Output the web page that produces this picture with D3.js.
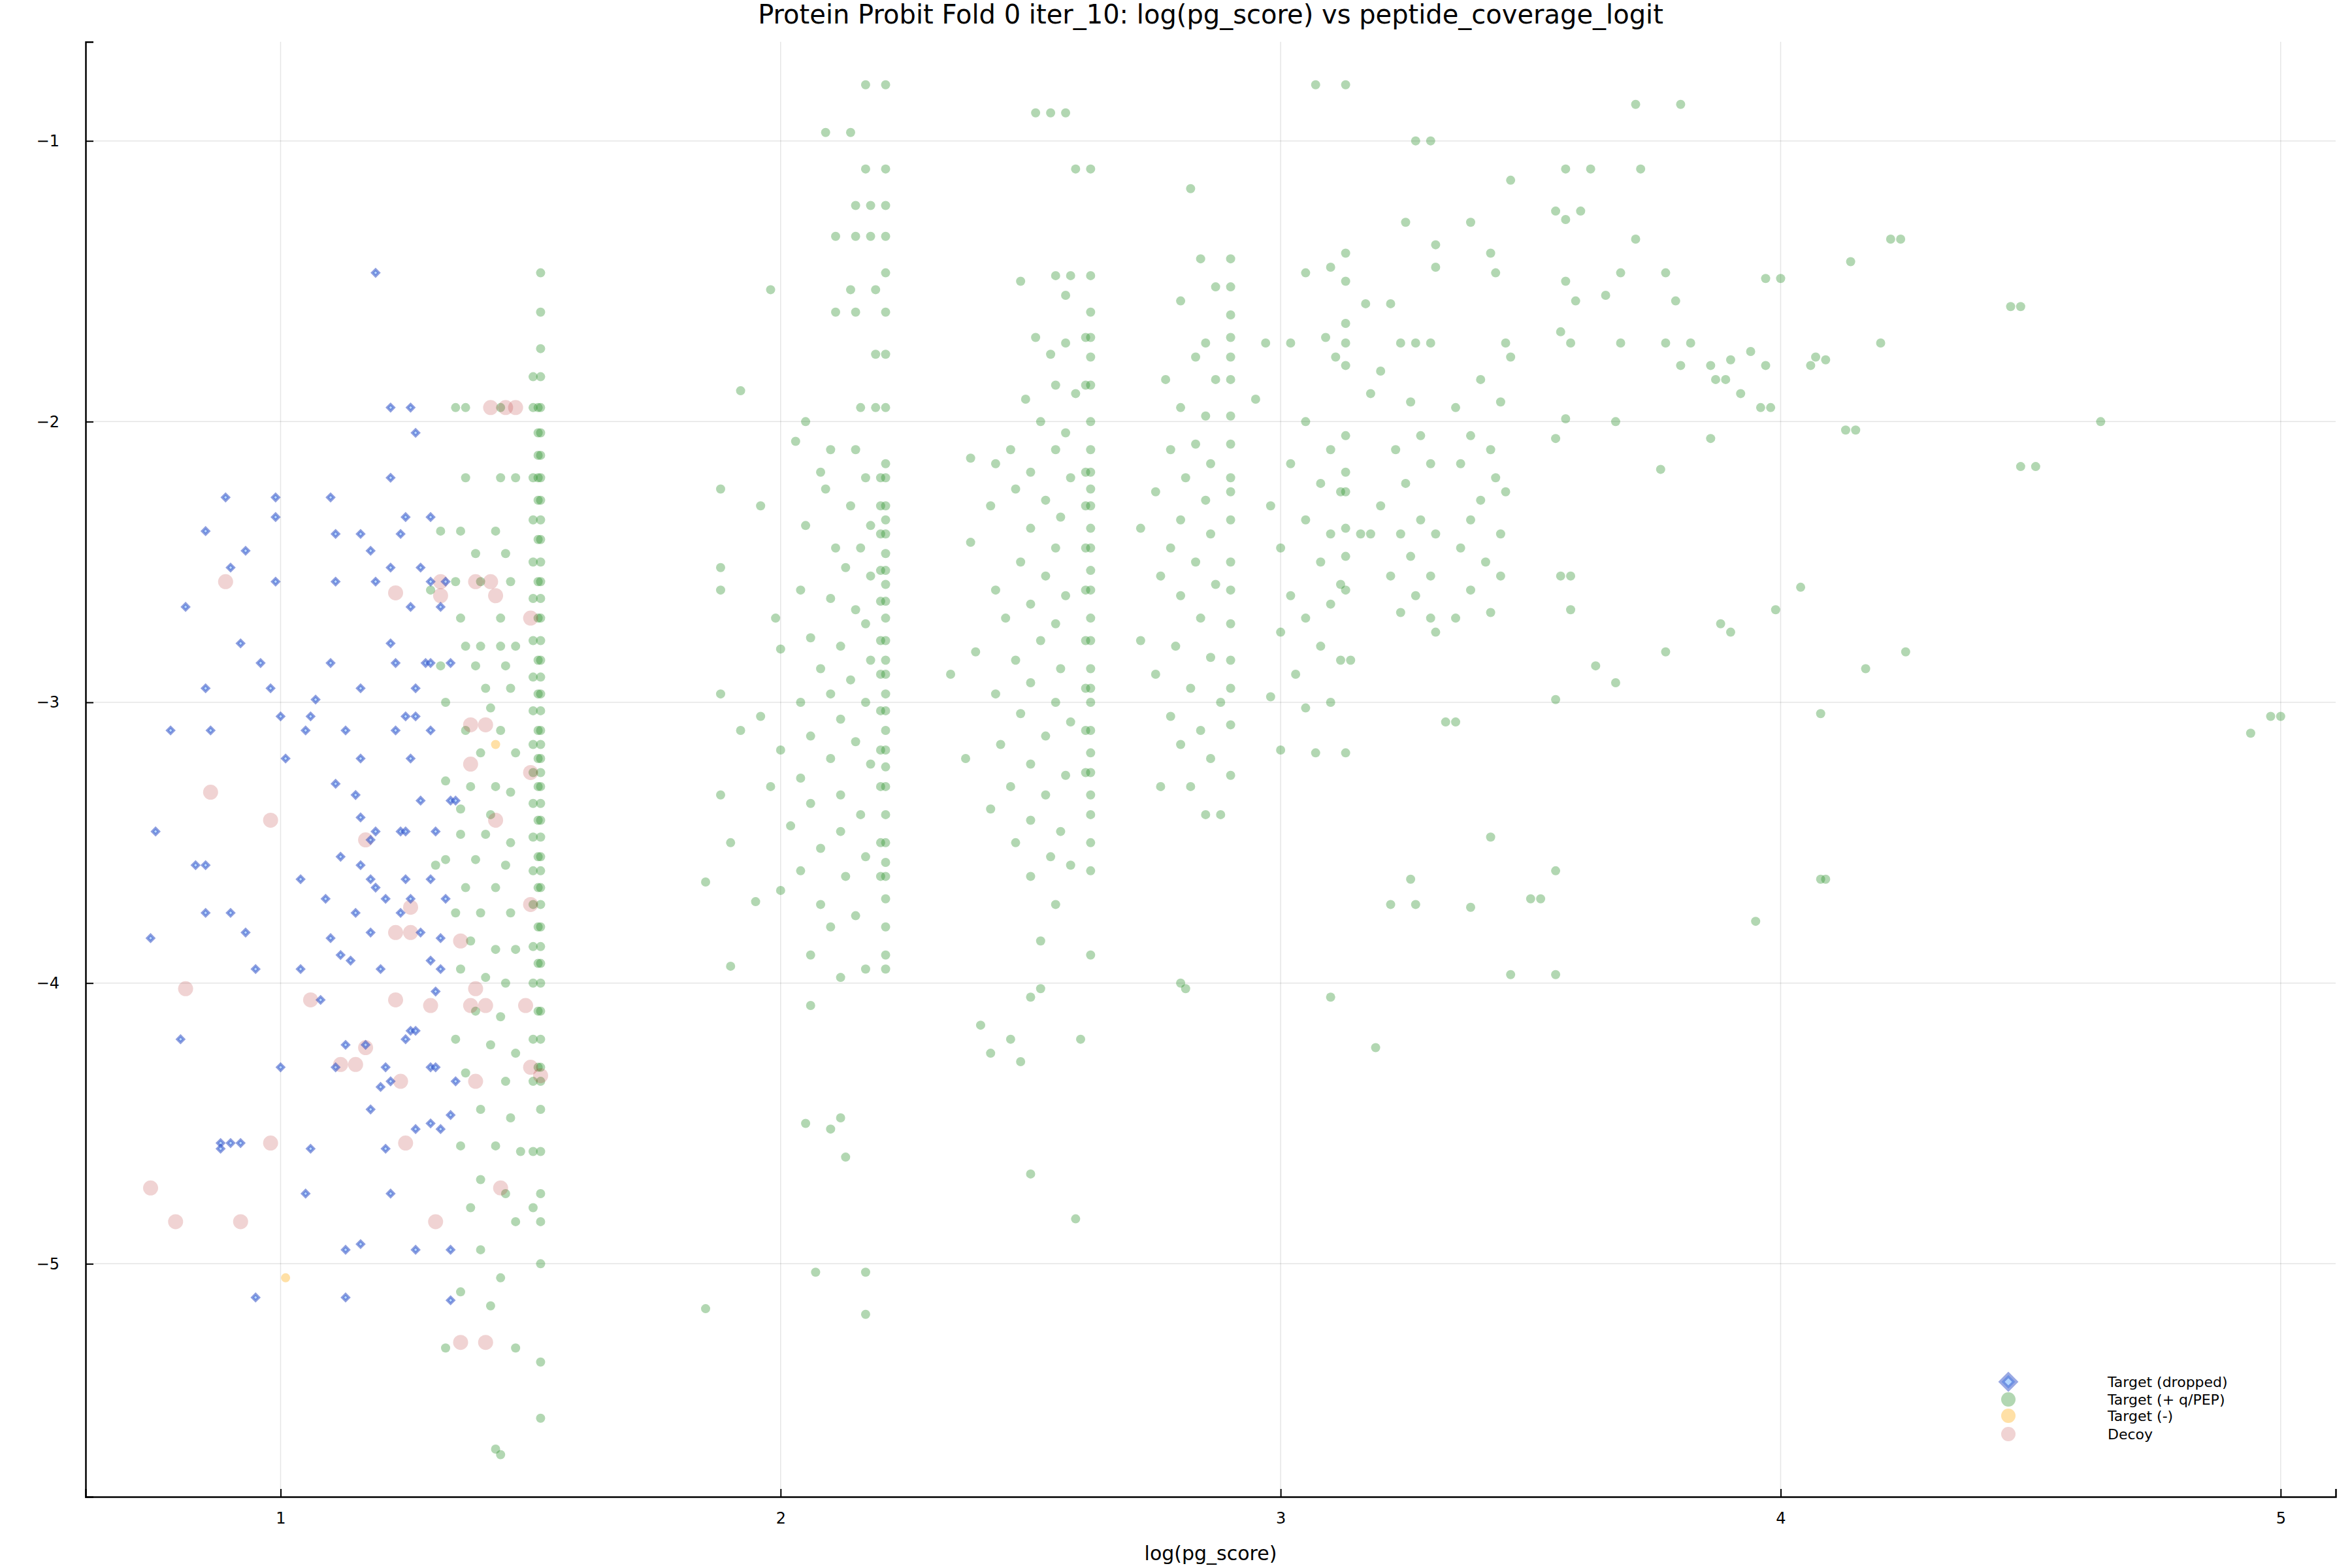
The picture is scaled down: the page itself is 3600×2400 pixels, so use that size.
<!DOCTYPE html>
<html><head><meta charset="utf-8">
<script src="https://cdn.jsdelivr.net/npm/d3@7"></script>
<style>body{margin:0;background:#fff}text{font-family:"DejaVu Sans",sans-serif}</style>
</head><body><svg id="c" width="3600" height="2400"></svg>
<script>
const titleText = "Protein Probit Fold 0 iter_10: log(pg_score) vs peptide_coverage_logit";
const xLabel = "log(pg_score)";
const xTicks = [1,2,3,4,5];
const yTicks = [-1,-2,-3,-4,-5];
const legendLabels = ["Target (dropped)","Target (+ q/PEP)","Target (-)","Decoy"];

const dropped = [[1.19,-1.47],[1.22,-1.95],[1.26,-1.95],[1.27,-2.04],[1.22,-2.2],[0.89,-2.27],[0.99,-2.27],[1.1,-2.27],[0.99,-2.34],[1.25,-2.34],[1.3,-2.34],[0.85,-2.39],[1.11,-2.4],[1.16,-2.4],[1.24,-2.4],[0.93,-2.46],[1.18,-2.46],[0.9,-2.52],[1.22,-2.52],[1.28,-2.52],[0.99,-2.57],[1.11,-2.57],[1.19,-2.57],[1.3,-2.57],[1.33,-2.57],[0.81,-2.66],[1.26,-2.66],[1.32,-2.66],[0.92,-2.79],[1.22,-2.79],[0.96,-2.86],[1.1,-2.86],[1.23,-2.86],[1.29,-2.86],[1.3,-2.86],[1.34,-2.86],[0.85,-2.95],[0.98,-2.95],[1.16,-2.95],[1.27,-2.95],[1.07,-2.99],[1.0,-3.05],[1.06,-3.05],[1.25,-3.05],[1.27,-3.05],[0.78,-3.1],[0.86,-3.1],[1.05,-3.1],[1.13,-3.1],[1.23,-3.1],[1.3,-3.1],[1.01,-3.2],[1.16,-3.2],[1.26,-3.2],[1.11,-3.29],[1.15,-3.33],[1.28,-3.35],[1.34,-3.35],[1.35,-3.35],[1.16,-3.41],[0.75,-3.46],[1.19,-3.46],[1.24,-3.46],[1.25,-3.46],[1.31,-3.46],[1.18,-3.49],[1.12,-3.55],[0.83,-3.58],[0.85,-3.58],[1.16,-3.58],[1.04,-3.63],[1.18,-3.63],[1.25,-3.63],[1.3,-3.63],[1.19,-3.66],[1.21,-3.7],[1.09,-3.7],[1.26,-3.7],[1.33,-3.7],[0.85,-3.75],[0.9,-3.75],[1.15,-3.75],[1.24,-3.75],[0.93,-3.82],[1.18,-3.82],[1.28,-3.82],[0.74,-3.84],[1.1,-3.84],[1.32,-3.84],[1.12,-3.9],[1.14,-3.92],[1.3,-3.92],[0.95,-3.95],[1.04,-3.95],[1.2,-3.95],[1.32,-3.95],[1.08,-4.06],[1.31,-4.03],[1.26,-4.17],[1.27,-4.17],[0.8,-4.2],[1.13,-4.22],[1.17,-4.22],[1.25,-4.2],[1.0,-4.3],[1.11,-4.3],[1.21,-4.3],[1.3,-4.3],[1.31,-4.3],[1.22,-4.35],[1.2,-4.37],[1.35,-4.35],[1.18,-4.45],[1.34,-4.47],[1.3,-4.5],[1.32,-4.52],[1.27,-4.52],[0.88,-4.57],[0.9,-4.57],[0.92,-4.57],[0.88,-4.59],[1.06,-4.59],[1.21,-4.59],[1.05,-4.75],[1.22,-4.75],[1.13,-4.95],[1.16,-4.93],[1.27,-4.95],[1.34,-4.95],[0.95,-5.12],[1.13,-5.12],[1.34,-5.13]];

const decoys = [[0.89,-2.57],[1.23,-2.61],[1.32,-2.57],[1.32,-2.62],[1.39,-2.57],[1.43,-2.62],[1.42,-1.95],[1.45,-1.95],[1.47,-1.95],[1.42,-2.57],[1.5,-2.7],[1.38,-3.08],[1.41,-3.08],[1.38,-3.22],[0.86,-3.32],[0.98,-3.42],[1.43,-3.42],[1.17,-3.49],[1.5,-3.25],[1.23,-3.82],[1.26,-3.82],[1.36,-3.85],[1.5,-3.72],[0.81,-4.02],[1.39,-4.02],[1.06,-4.06],[1.23,-4.06],[1.3,-4.08],[1.38,-4.08],[1.41,-4.08],[1.49,-4.08],[1.17,-4.23],[1.12,-4.29],[1.15,-4.29],[1.24,-4.35],[1.39,-4.35],[1.5,-4.3],[1.52,-4.33],[0.98,-4.57],[1.25,-4.57],[0.74,-4.73],[1.44,-4.73],[0.79,-4.85],[0.92,-4.85],[1.31,-4.85],[1.36,-5.28],[1.41,-5.28],[1.26,-3.73]];

const negTargets = [[1.01,-5.05],[1.43,-3.15]];

// vertical stripes of kept targets: x position and the y values found along it
const stripeX = [1.52,1.505,1.515,2.21,2.2,2.62,2.61,2.9,3.13];
const stripeY = [
 [-1.47,-1.61,-1.74,-1.84,-1.95,-2.04,-2.12,-2.2,-2.28,-2.35,-2.42,-2.5,-2.57,-2.63,-2.7,-2.78,-2.85,-2.91,-2.97,-3.03,-3.1,-3.15,-3.2,-3.25,-3.3,-3.36,-3.42,-3.48,-3.55,-3.6,-3.66,-3.72,-3.8,-3.87,-3.93,-4.0,-4.1,-4.2,-4.3,-4.35,-4.45,-4.6,-4.75,-4.85,-5.0,-5.35,-5.55],
 [-1.84,-1.95,-2.2,-2.35,-2.5,-2.63,-2.78,-2.91,-3.03,-3.15,-3.25,-3.36,-3.48,-3.6,-3.72,-3.87,-4.0,-4.2,-4.35,-4.6,-4.8],
 [-1.95,-2.04,-2.12,-2.2,-2.28,-2.42,-2.57,-2.7,-2.85,-2.97,-3.1,-3.2,-3.3,-3.42,-3.55,-3.66,-3.8,-3.93,-4.1,-4.3],
 [-0.8,-1.1,-1.23,-1.34,-1.47,-1.61,-1.76,-1.95,-2.15,-2.2,-2.3,-2.35,-2.4,-2.47,-2.53,-2.58,-2.64,-2.7,-2.78,-2.85,-2.9,-2.97,-3.03,-3.1,-3.17,-3.23,-3.3,-3.4,-3.5,-3.57,-3.62,-3.7,-3.8,-3.9,-3.95],
 [-2.2,-2.3,-2.4,-2.53,-2.64,-2.78,-2.9,-3.03,-3.17,-3.3,-3.5,-3.62],
 [-1.1,-1.48,-1.61,-1.7,-1.77,-1.87,-2.0,-2.1,-2.18,-2.24,-2.3,-2.38,-2.45,-2.53,-2.6,-2.7,-2.78,-2.88,-2.95,-3.0,-3.1,-3.18,-3.25,-3.33,-3.4,-3.5,-3.6,-3.9],
 [-1.7,-1.87,-2.18,-2.3,-2.45,-2.6,-2.78,-2.95,-3.1,-3.25],
 [-1.42,-1.52,-1.62,-1.7,-1.77,-1.85,-1.98,-2.08,-2.2,-2.25,-2.35,-2.5,-2.6,-2.72,-2.85,-2.95,-3.08,-3.26],
 [-1.4,-1.5,-1.65,-1.72,-1.8,-2.05,-2.18,-2.25,-2.38,-2.48,-2.6]
];

const keptScatter = [[1.35,-1.95],[1.37,-1.95],[1.44,-1.95],[1.37,-2.2],[1.44,-2.2],[1.47,-2.2],[1.32,-2.39],[1.36,-2.39],[1.43,-2.39],[1.39,-2.47],[1.45,-2.47],[1.35,-2.57],[1.4,-2.57],[1.46,-2.57],[1.36,-2.7],[1.44,-2.7],[1.37,-2.8],[1.4,-2.8],[1.44,-2.8],[1.47,-2.8],[1.32,-2.87],[1.39,-2.87],[1.45,-2.87],[1.41,-2.95],[1.46,-2.95],[1.33,-3.0],[1.42,-3.02],[1.37,-3.1],[1.44,-3.1],[1.4,-3.18],[1.47,-3.18],[1.33,-3.28],[1.38,-3.3],[1.43,-3.3],[1.46,-3.32],[1.36,-3.38],[1.42,-3.4],[1.36,-3.47],[1.41,-3.47],[1.46,-3.5],[1.33,-3.56],[1.39,-3.56],[1.45,-3.58],[1.37,-3.66],[1.43,-3.66],[1.35,-3.75],[1.4,-3.75],[1.46,-3.75],[1.38,-3.85],[1.43,-3.88],[1.47,-3.88],[1.36,-3.95],[1.41,-3.98],[1.45,-4.0],[1.39,-4.1],[1.44,-4.12],[1.35,-4.2],[1.42,-4.22],[1.47,-4.25],[1.37,-4.32],[1.45,-4.35],[1.4,-4.45],[1.46,-4.48],[1.36,-4.58],[1.43,-4.58],[1.48,-4.6],[1.4,-4.7],[1.45,-4.75],[1.38,-4.8],[1.47,-4.85],[1.4,-4.95],[1.36,-5.1],[1.44,-5.05],[1.42,-5.15],[1.47,-5.3],[1.33,-5.3],[1.44,-5.68],[1.43,-5.66],[1.3,-2.6],[1.31,-3.58],
[2.17,-0.8],[2.09,-0.97],[2.14,-0.97],[2.17,-1.1],[2.15,-1.23],[2.18,-1.23],[2.11,-1.34],[2.15,-1.34],[2.18,-1.34],[1.98,-1.53],[2.14,-1.53],[2.19,-1.53],[2.11,-1.61],[2.15,-1.61],[2.19,-1.76],[1.92,-1.89],[2.16,-1.95],[2.19,-1.95],[2.05,-2.0],[2.03,-2.07],[2.1,-2.1],[2.15,-2.1],[2.08,-2.18],[2.17,-2.2],[1.88,-2.24],[2.09,-2.24],[1.96,-2.3],[2.14,-2.3],[2.05,-2.37],[2.18,-2.37],[2.11,-2.45],[2.16,-2.45],[1.88,-2.52],[2.13,-2.52],[2.18,-2.55],[2.04,-2.6],[1.88,-2.6],[2.1,-2.63],[2.15,-2.67],[1.99,-2.7],[2.17,-2.72],[2.06,-2.77],[2.12,-2.8],[2.0,-2.81],[2.18,-2.85],[2.08,-2.88],[2.14,-2.92],[1.88,-2.97],[2.1,-2.97],[2.04,-3.0],[2.17,-3.0],[1.96,-3.05],[2.12,-3.06],[1.92,-3.1],[2.06,-3.12],[2.15,-3.14],[2.0,-3.17],[2.1,-3.2],[2.18,-3.22],[2.04,-3.27],[1.98,-3.3],[2.12,-3.33],[1.88,-3.33],[2.06,-3.36],[2.16,-3.4],[2.02,-3.44],[2.12,-3.46],[1.9,-3.5],[2.08,-3.52],[2.17,-3.55],[2.04,-3.6],[2.13,-3.62],[1.85,-3.64],[2.0,-3.67],[1.95,-3.71],[2.08,-3.72],[2.15,-3.76],[2.1,-3.8],[2.06,-3.9],[1.9,-3.94],[2.17,-3.95],[2.12,-3.98],[2.06,-4.08],[2.05,-4.5],[2.12,-4.48],[2.1,-4.52],[2.13,-4.62],[2.07,-5.03],[2.17,-5.03],[2.17,-5.18],[1.85,-5.16],
[2.51,-0.9],[2.54,-0.9],[2.57,-0.9],[2.59,-1.1],[2.55,-1.48],[2.58,-1.48],[2.48,-1.5],[2.57,-1.55],[2.51,-1.7],[2.57,-1.72],[2.54,-1.76],[2.55,-1.87],[2.59,-1.9],[2.49,-1.92],[2.52,-2.0],[2.57,-2.04],[2.46,-2.1],[2.55,-2.1],[2.38,-2.13],[2.43,-2.15],[2.5,-2.18],[2.58,-2.2],[2.47,-2.24],[2.53,-2.28],[2.42,-2.3],[2.56,-2.34],[2.5,-2.38],[2.38,-2.43],[2.55,-2.45],[2.48,-2.5],[2.53,-2.55],[2.43,-2.6],[2.57,-2.62],[2.5,-2.65],[2.45,-2.7],[2.55,-2.72],[2.52,-2.78],[2.39,-2.82],[2.47,-2.85],[2.56,-2.88],[2.34,-2.9],[2.5,-2.93],[2.43,-2.97],[2.55,-3.0],[2.48,-3.04],[2.58,-3.07],[2.53,-3.12],[2.44,-3.15],[2.37,-3.2],[2.5,-3.22],[2.57,-3.26],[2.46,-3.3],[2.53,-3.33],[2.42,-3.38],[2.5,-3.42],[2.56,-3.46],[2.47,-3.5],[2.54,-3.55],[2.58,-3.58],[2.5,-3.62],[2.55,-3.72],[2.52,-3.85],[2.4,-4.15],[2.46,-4.2],[2.42,-4.25],[2.5,-4.05],[2.52,-4.02],[2.48,-4.28],[2.6,-4.2],[2.5,-4.68],[2.59,-4.84],
[2.8,-1.57],[2.84,-1.42],[2.87,-1.52],[2.85,-1.72],[2.83,-1.77],[2.87,-1.85],[2.77,-1.85],[2.8,-1.95],[2.85,-1.98],[2.83,-2.08],[2.78,-2.1],[2.86,-2.15],[2.81,-2.2],[2.75,-2.25],[2.85,-2.28],[2.8,-2.35],[2.72,-2.38],[2.86,-2.4],[2.78,-2.45],[2.83,-2.5],[2.76,-2.55],[2.87,-2.58],[2.8,-2.62],[2.84,-2.7],[2.72,-2.78],[2.79,-2.8],[2.86,-2.84],[2.75,-2.9],[2.82,-2.95],[2.88,-3.0],[2.78,-3.05],[2.84,-3.1],[2.8,-3.15],[2.86,-3.2],[2.76,-3.3],[2.82,-3.3],[2.85,-3.4],[2.88,-3.4],[2.81,-4.02],[2.8,-4.0],[2.82,-1.17],
[3.07,-0.8],[3.13,-0.8],[3.05,-1.47],[3.1,-1.45],[3.02,-1.72],[2.97,-1.72],[3.09,-1.7],[3.11,-1.77],[2.95,-1.92],[3.05,-2.0],[3.1,-2.1],[3.02,-2.15],[3.08,-2.22],[3.12,-2.25],[2.98,-2.3],[3.05,-2.35],[3.1,-2.4],[3.0,-2.45],[3.08,-2.5],[3.12,-2.58],[3.02,-2.62],[3.1,-2.65],[3.05,-2.7],[3.0,-2.75],[3.08,-2.8],[3.12,-2.85],[3.03,-2.9],[2.98,-2.98],[3.1,-3.0],[3.05,-3.02],[3.13,-3.18],[3.07,-3.18],[3.0,-3.17],[3.1,-4.05],[3.19,-4.23],[3.14,-2.85],
[3.3,-1.0],[3.27,-1.0],[3.25,-1.29],[3.31,-1.37],[3.31,-1.45],[3.22,-1.58],[3.27,-1.72],[3.3,-1.72],[3.24,-1.72],[3.2,-1.82],[3.26,-1.93],[3.18,-1.9],[3.28,-2.05],[3.23,-2.1],[3.3,-2.15],[3.25,-2.22],[3.2,-2.3],[3.28,-2.35],[3.31,-2.4],[3.24,-2.4],[3.18,-2.4],[3.26,-2.48],[3.3,-2.55],[3.22,-2.55],[3.27,-2.62],[3.3,-2.7],[3.24,-2.68],[3.31,-2.75],[3.33,-3.07],[3.35,-3.07],[3.26,-3.63],[3.22,-3.72],[3.27,-3.72],[3.38,-3.73],[3.16,-2.4],[3.17,-1.58],
[3.46,-1.14],[3.42,-1.4],[3.43,-1.47],[3.38,-1.29],[3.45,-1.72],[3.46,-1.77],[3.4,-1.85],[3.35,-1.95],[3.44,-1.93],[3.38,-2.05],[3.42,-2.1],[3.36,-2.15],[3.43,-2.2],[3.4,-2.28],[3.45,-2.25],[3.38,-2.35],[3.44,-2.4],[3.36,-2.45],[3.41,-2.5],[3.44,-2.55],[3.38,-2.6],[3.42,-2.68],[3.35,-2.7],[3.42,-3.48],[3.5,-3.7],[3.52,-3.7],[3.55,-3.6],[3.46,-3.97],[3.55,-3.97],[3.55,-1.25],[3.57,-1.28],[3.6,-1.25],[3.57,-1.1],[3.62,-1.1],[3.57,-1.5],[3.59,-1.57],[3.56,-1.68],[3.58,-1.72],[3.57,-1.99],[3.55,-2.06],[3.56,-2.55],[3.58,-2.55],[3.58,-2.67],[3.55,-2.99],[3.63,-2.87],[3.67,-2.93],[3.67,-2.0],[3.68,-1.72],[3.65,-1.55],[3.68,-1.47],[3.71,-1.35],[3.72,-1.1],[3.71,-0.87],[3.8,-0.87],[3.77,-1.47],[3.79,-1.57],[3.8,-1.8],[3.82,-1.72],[3.77,-1.72],[3.76,-2.17],[3.77,-2.82],[3.86,-2.06],[3.88,-2.72],[3.9,-2.75],[3.86,-1.8],[3.87,-1.85],[3.89,-1.85],[3.92,-1.9],[3.94,-1.75],[3.97,-1.8],[3.96,-1.95],[3.98,-1.95],[3.97,-1.49],[4.0,-1.49],[3.99,-2.67],[3.95,-3.78],[4.04,-2.59],[4.06,-1.8],[4.07,-1.77],[4.09,-1.78],[4.08,-3.63],[4.09,-3.63],[4.08,-3.04],[4.13,-2.03],[4.15,-2.03],[4.14,-1.43],[4.2,-1.72],[4.17,-2.88],[4.22,-1.35],[4.24,-1.35],[4.25,-2.82],[4.46,-1.59],[4.48,-1.59],[4.48,-2.16],[4.51,-2.16],[4.64,-2.0],[4.94,-3.11],[4.98,-3.05],[5.0,-3.05],[3.9,-1.78]];

const svg = d3.select("#c");
const L=131, R=3575, T=64, B=2291;
const x = d3.scaleLinear().domain([0.61,5.11]).range([L,R]);
const y = d3.scaleLinear().domain([-0.647,-5.83]).range([T,B]);

svg.append("g").selectAll("line").data(xTicks).join("line")
  .attr("x1",d=>x(d)).attr("x2",d=>x(d)).attr("y1",T).attr("y2",B)
  .attr("stroke","#000").attr("stroke-opacity",0.1).attr("stroke-width",1.5);
svg.append("g").selectAll("line").data(yTicks).join("line")
  .attr("y1",d=>y(d)).attr("y2",d=>y(d)).attr("x1",L).attr("x2",R)
  .attr("stroke","#000").attr("stroke-opacity",0.1).attr("stroke-width",1.5);

const xa = svg.append("g").attr("transform",`translate(0,${B})`)
  .call(d3.axisBottom(x).tickValues(xTicks).tickSize(-12).tickPadding(24).tickFormat(d3.format("d")));
const ya = svg.append("g").attr("transform",`translate(${L},0)`)
  .call(d3.axisLeft(y).tickValues(yTicks).tickSize(-12).tickPadding(40).tickFormat(d=>"\u2212"+Math.abs(d)));
[xa,ya].forEach(a=>{a.select(".domain").attr("stroke","#000").attr("stroke-width",2.5);
  a.selectAll(".tick line").attr("stroke","#000").attr("stroke-width",2);
  a.selectAll("text").attr("font-size",24).attr("fill","#000").attr("font-family","DejaVu Sans");});

const g = svg.append("g");
const green = "#228b22";
const kept = keptScatter.slice();
stripeX.forEach((sx,i)=>stripeY[i].forEach(v=>kept.push([sx,v])));
g.selectAll(".k").data(kept).join("circle")
  .attr("cx",d=>x(d[0])).attr("cy",d=>y(d[1])).attr("r",7)
  .attr("fill",green).attr("fill-opacity",0.35);
g.selectAll(".n").data(negTargets).join("circle")
  .attr("cx",d=>x(d[0])).attr("cy",d=>y(d[1])).attr("r",7)
  .attr("fill","#ffa500").attr("fill-opacity",0.35);
g.selectAll(".d").data(decoys).join("circle")
  .attr("cx",d=>x(d[0])).attr("cy",d=>y(d[1])).attr("r",11.5)
  .attr("fill","#b22222").attr("fill-opacity",0.2);
const dia = d3.symbol().type(d3.symbolSquare).size(50);
g.selectAll(".b").data(dropped).join("path")
  .attr("d",dia).attr("transform",d=>`translate(${x(d[0])},${y(d[1])}) rotate(45)`)
  .attr("fill","#9ecbff").attr("fill-opacity",0.7)
  .attr("stroke","#2040c0").attr("stroke-opacity",0.5).attr("stroke-width",4);

svg.append("text").attr("x",(L+R)/2).attr("y",36).attr("text-anchor","middle")
  .attr("font-size",40).text(titleText);
svg.append("text").attr("x",(L+R)/2).attr("y",2388).attr("text-anchor","middle")
  .attr("font-size",30).text(xLabel);

const lg = svg.append("g");
const ly = [2115,2142,2167,2195], lmx = 3074, ltx = 3226;
lg.append("path").attr("d",d3.symbol().type(d3.symbolSquare).size(220)())
  .attr("transform",`translate(${lmx},${ly[0]}) rotate(45)`).attr("fill","#9ecbff").attr("fill-opacity",0.8)
  .attr("stroke","#2040c0").attr("stroke-opacity",0.45).attr("stroke-width",7);
lg.append("circle").attr("cx",lmx).attr("cy",ly[1]).attr("r",11).attr("fill",green).attr("fill-opacity",0.35);
lg.append("circle").attr("cx",lmx).attr("cy",ly[2]).attr("r",11).attr("fill","#ffa500").attr("fill-opacity",0.35);
lg.append("circle").attr("cx",lmx).attr("cy",ly[3]).attr("r",11).attr("fill","#b22222").attr("fill-opacity",0.2);
lg.selectAll("text").data(legendLabels).join("text")
  .attr("x",ltx).attr("y",(d,i)=>ly[i]+8).attr("font-size",22).text(d=>d);
</script></body></html>
